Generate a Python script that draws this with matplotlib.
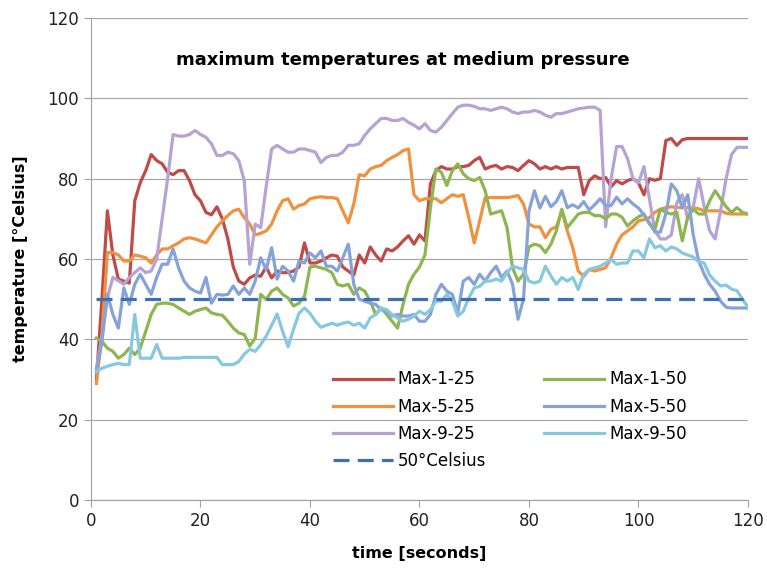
import numpy as np
import matplotlib
matplotlib.use("Agg")
import matplotlib.pyplot as plt

# time axis in seconds
time_s = list(range(1, 121))

max_1_25 = [30, 50, 72, 61, 55, 54.5, 54, 74.5, 79, 82, 86, 84.5, 83.7, 81.6, 81, 82, 82, 79.5, 76, 74.5,
            71.6, 71, 73, 70, 65, 58, 54.5, 53.7, 55.3, 56, 55.7, 58, 55.3, 57, 56.6, 56.6, 57, 58, 64, 59,
            59, 59.5, 60.3, 61, 60.7, 58, 57, 56, 61, 59, 63, 61, 59.5, 62.5, 62, 63, 64.5, 65.8, 63.7, 66,
            64.5, 78.7, 82, 83, 82.4, 82.4, 83, 83, 83.3, 84.5, 85.3, 82.4, 83, 83.3, 82.4, 83, 82.8, 82, 83.3, 84.5,
            83.7, 82.4, 83, 82.4, 83, 82.4, 82.8, 82.8, 82.8, 76, 79.5, 80.7, 80, 80.3, 78, 79.5, 78.7, 79.5, 80, 79,
            76, 80, 79.6, 80, 89.5, 90, 88.3, 89.7, 90, 90, 90, 90, 90, 90, 90, 90, 90, 90, 90, 90]

max_5_25 = [29, 41, 61.6, 61.6, 61, 59.5, 59.5, 61, 60.7, 60.3, 59, 61, 62.5, 62.5, 63.3, 64, 65, 65.3, 65, 64.5,
            64, 66, 68, 69.5, 70.8, 72, 72.4, 70.3, 68.7, 66, 66.4, 67, 68.7, 72, 74.5, 75, 72.4, 73.3, 73.7, 75,
            75.3, 75.5, 75.3, 75.3, 75, 72, 69, 73.7, 81, 80.7, 82.4, 83, 83.3, 84.5, 85.3, 86, 87, 87.4, 76, 74.5,
            75, 75, 75, 74, 75, 76, 75.6, 76, 70.3, 64, 69.5, 75.3, 75.3, 75.3, 75.3, 75.3, 75.5, 75.8, 73.7, 68.7,
            68, 68, 65.3, 67.4, 68, 72, 67, 62.8, 57, 55.7, 57.4, 57, 57.4, 57.8, 60.3, 63.7, 66, 67, 68, 69.5,
            69.8, 70.3, 71.6, 72.4, 72.8, 73, 72.8, 72.8, 72.8, 72.8, 72.5, 72, 72, 72, 72, 71.4, 71.2, 71.2, 71.2, 71.2]

max_9_25 = [33, 40.4, 50.4, 55.4, 54.6, 53.7, 55.4, 56.6, 57.8, 56.6, 57, 60, 70, 80, 91, 90.6, 90.6, 91, 92, 91,
            90.3, 88.7, 85.8, 85.8, 86.6, 86.2, 84.5, 79.5, 58.7, 68.7, 67.8, 78, 87.4, 88.3, 87.4, 86.6, 86.6, 87.4, 87.4, 87,
            86.6, 84, 85.3, 85.8, 85.8, 86.6, 88.3, 88.3, 88.7, 90.8, 92.4, 93.7, 95, 95, 94.5, 94.5, 95, 94, 93.3, 92.4,
            93.7, 92, 91.6, 92.8, 94.5, 96.2, 97.8, 98.3, 98.3, 98, 97.4, 97.4, 97, 97.4, 97.8, 97.4, 96.6, 96.2, 96.6, 96.6,
            97, 96.6, 95.8, 95.3, 96.2, 96.2, 96.6, 97, 97.4, 97.6, 97.8, 97.8, 97, 68, 80, 88, 88, 85, 80, 79,
            83, 75, 67, 65, 65, 66, 74, 76, 70, 73, 80, 73, 67, 65, 72, 80, 86, 87.8, 87.8, 87.8]

max_1_50 = [40.3, 39.5, 37.8, 37, 35.3, 36.2, 37.8, 36.2, 37.8, 42, 46.2, 48.7, 49, 49, 48.7, 47.8, 47, 46.2, 47, 47.4,
            47.8, 46.6, 46.2, 46, 44.5, 42.8, 41.6, 41.2, 38.3, 40.3, 51.2, 49.9, 52, 52.8, 51.2, 50.3, 48.3, 49, 50.7, 58,
            58.2, 57.8, 57.4, 56.6, 53.7, 53.3, 53.7, 51.2, 52.8, 52, 49.5, 46.2, 47.8, 46.2, 44.5, 42.8, 48.7, 53.7, 56.2, 58,
            61, 72.8, 82.4, 81.6, 78.3, 82, 83.7, 81.2, 80, 79.5, 80.3, 77, 71.2, 71.6, 72, 67.8, 57.8, 54.5, 56.2, 63,
            63.7, 63.3, 61.6, 63.7, 67, 72.4, 67.8, 69.5, 71.2, 71.6, 71.6, 70.8, 70.8, 70, 71.2, 71.2, 70.4, 68.2, 69.5, 70.5,
            71.2, 68.7, 67.4, 72.4, 71.6, 71.2, 71.6, 64.5, 70.5, 72.4, 71.2, 71.2, 74.5, 77, 75, 73, 71.6, 72.8, 71.6, 71.2]

max_5_50 = [32, 39.5, 51.2, 46.2, 42.8, 52.8, 48.7, 53.7, 56.2, 53.7, 51.2, 55.4, 58.7, 58.7, 62.5, 57.8, 54.5, 52.8, 52, 51.5,
            55.4, 49, 51.2, 51, 51.2, 53.3, 51.2, 52.8, 51.2, 54.5, 60.3, 57.4, 62.8, 55, 58.2, 57, 54.5, 59.5, 59, 61.5,
            60.3, 62, 58.2, 58.2, 57, 60.3, 63.7, 53.7, 50, 49.5, 49, 48.7, 47.4, 47, 45.8, 46.2, 45.8, 45.8, 46.2, 44.5,
            44.5, 46.2, 51.2, 53.7, 52, 51.2, 46.6, 54.5, 55.4, 53.7, 56.2, 54.5, 56.6, 58.2, 55.4, 57, 53.7, 45, 50, 72,
            77, 72.7, 75.6, 73, 74.3, 77, 72.8, 73.5, 72.7, 74.3, 72.2, 73.5, 75, 73.3, 73.3, 75.4, 73.7, 75, 73.7, 72.7,
            71, 69, 66.7, 66.7, 71.2, 78.7, 77, 72.7, 76, 66, 59.5, 56.2, 53.7, 52, 49.5, 48, 47.8, 47.8, 47.8, 47.8]

max_9_50 = [32, 32.8, 33.3, 33.7, 34, 33.7, 33.7, 46.2, 35.3, 35.3, 35.3, 38.7, 35.3, 35.3, 35.3, 35.3, 35.5, 35.5, 35.5, 35.5,
            35.5, 35.5, 35.5, 33.7, 33.7, 33.7, 34.5, 36.3, 37.5, 37, 38.7, 40.8, 43.5, 46.3, 42, 38.2, 42.5, 46.5, 47.8, 46.5,
            44.5, 43, 43.5, 44, 43.5, 44, 44.3, 43.5, 44, 42.8, 45.3, 46.2, 47.8, 47.4, 46.2, 45.3, 44.5, 45, 45.8, 47,
            46.2, 47.4, 49.5, 49.5, 51.2, 49.5, 45.8, 47, 50.3, 52.8, 53.2, 54.5, 54.5, 55, 54.5, 56.6, 58.2, 57.8, 57.4, 54.5,
            54, 54.5, 58.2, 55.8, 53.7, 55.4, 54.5, 55.4, 52.4, 56.2, 57.4, 57.8, 58.2, 59, 59.9, 58.7, 59, 59, 62, 62,
            60.3, 65, 62.8, 63.3, 62, 63, 62.5, 61.5, 61, 60.5, 59.3, 59, 56, 54.5, 53.3, 53.5, 52.5, 52.1, 50, 48]

limit_temp = 50

fig = plt.figure(figsize=(7.67, 5.72), dpi=100)
ax = fig.add_axes([0.1186, 0.1259, 0.8566, 0.8426])

lw = 2.3
l1, = ax.plot(time_s, max_1_25, color="#BE4B48", lw=lw, label="Max-1-25")
l2, = ax.plot(time_s, max_5_25, color="#F0913F", lw=lw, label="Max-5-25")
l3, = ax.plot(time_s, max_9_25, color="#B6A3D3", lw=lw, label="Max-9-25")
l4, = ax.plot(time_s, max_1_50, color="#8DB651", lw=lw, label="Max-1-50")
l5, = ax.plot(time_s, max_5_50, color="#86A3D8", lw=lw, label="Max-5-50")
l6, = ax.plot(time_s, max_9_50, color="#86C9DF", lw=lw, label="Max-9-50")
l7, = ax.plot([time_s[0], time_s[-1]], [limit_temp, limit_temp], color="#3D6FB5",
              lw=lw, dashes=(5, 2.6), label="50°Celsius")

ax.set_xlim(0, 120)
ax.set_ylim(0, 120)
ax.set_xticks(range(0, 121, 20))
ax.set_yticks(range(0, 121, 20))
ax.grid(axis="y", color="#A8A8A8", lw=0.9)
ax.set_axisbelow(True)
for s in ["top", "right"]:
    ax.spines[s].set_visible(False)
for s in ["left", "bottom"]:
    ax.spines[s].set_color("#A0A0A0")
ax.tick_params(axis="both", colors="#A0A0A0", labelcolor="#222222", labelsize=12, length=5)

ax.set_xlabel("time [seconds]", fontsize=11.5, fontweight="bold", labelpad=12)
ax.set_ylabel("temperature [°Celsius]", fontsize=11.5, fontweight="bold", labelpad=14)

ax.text(0.475, 0.913, "maximum temperatures at medium pressure", transform=ax.transAxes,
        ha="center", va="center", fontsize=13, fontweight="bold",
        bbox=dict(facecolor="white", edgecolor="none", pad=8))

ax.legend(handles=[l1, l2, l3, l7, l4, l5, l6], ncol=2, loc="upper left",
          bbox_to_anchor=(0.345, 0.3), frameon=False, fontsize=12,
          handlelength=3.6, columnspacing=3.5, labelspacing=0.55, handletextpad=0.3)

fig.savefig("out.png", dpi=100)
